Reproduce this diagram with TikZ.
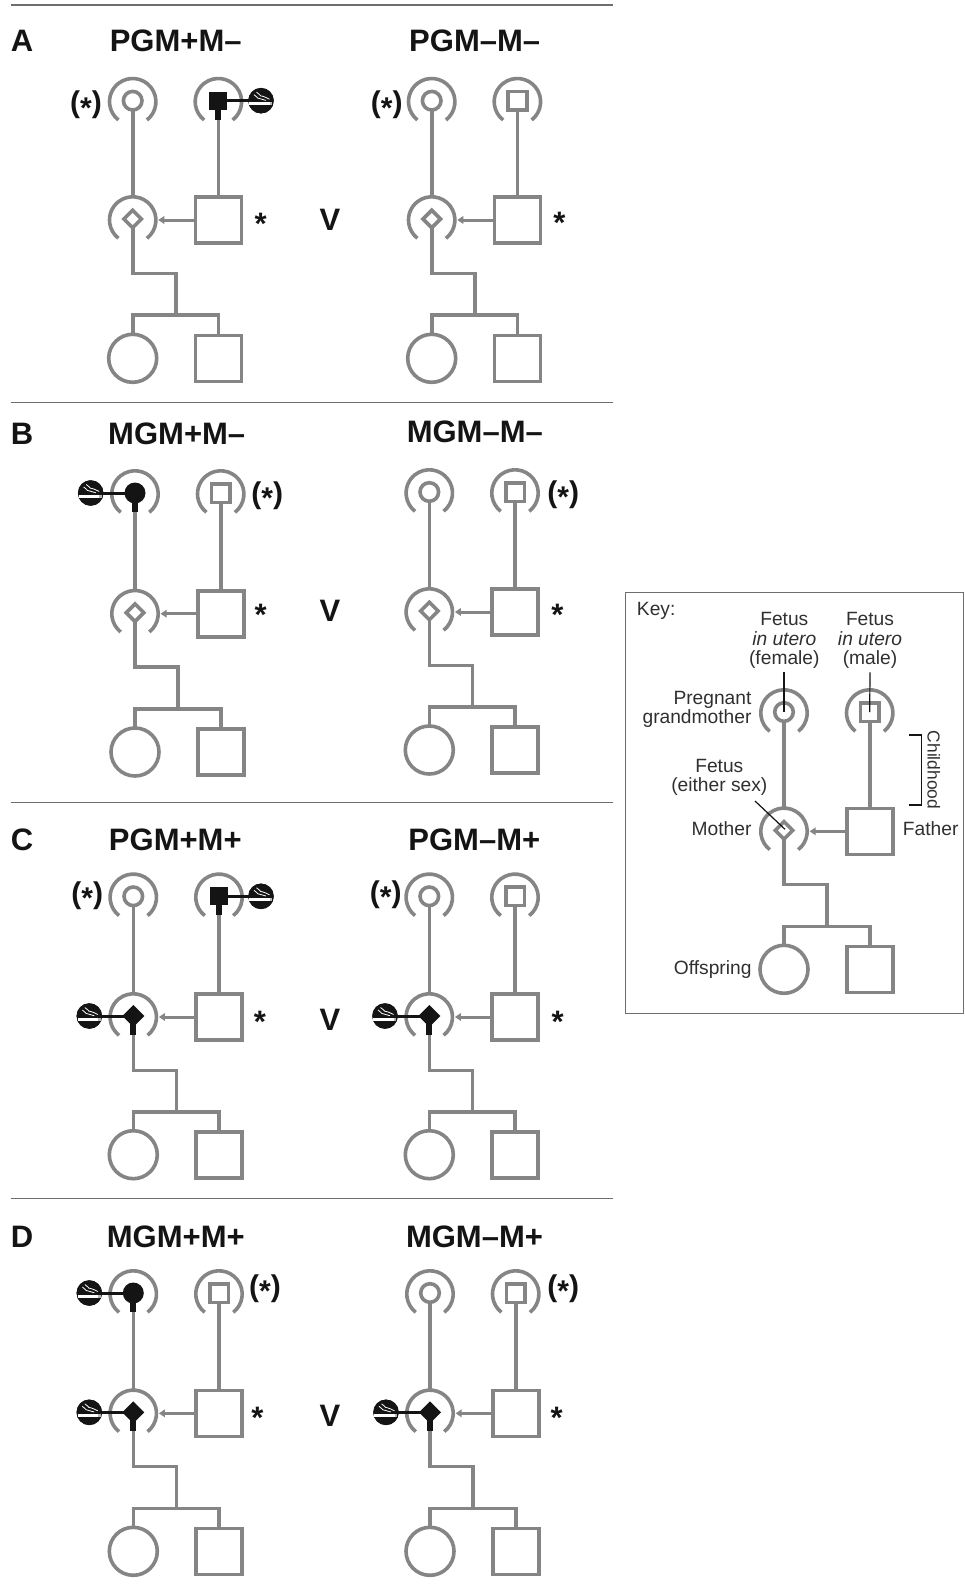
\documentclass[tikz,border=0pt]{standalone}
\usepackage{fontspec}
\setmainfont{Liberation Sans}
\usetikzlibrary{arrows.meta,shapes.geometric}
\definecolor{linegrey}{HTML}{858585}
\definecolor{rulegrey}{HTML}{6E6E6E}
\definecolor{inkblack}{HTML}{141414}
\definecolor{keyink}{HTML}{303030}
\def\px{0.75pt}
\tikzset{
  pedline/.style={draw=linegrey,line width=3.6*\px,line join=miter},
  thinarrow/.style={draw=linegrey,line width=3*\px,-{Triangle[length=6*\px,width=7.5*\px]}},
  bigsq/.style={rectangle,pedline,fill=white,inner sep=0pt,outer sep=0pt,minimum size=46*\px},
  bigci/.style={circle,pedline,fill=white,inner sep=0pt,outer sep=0pt,minimum size=48*\px},
  gmopen/.style={circle,pedline,inner sep=0pt,outer sep=0pt,minimum size=18.6*\px},
  gmblack/.style={circle,fill=inkblack,inner sep=0pt,outer sep=0pt,minimum size=21*\px},
  gfopen/.style={rectangle,pedline,inner sep=0pt,outer sep=0pt,minimum size=18.6*\px},
  gfblack/.style={rectangle,fill=inkblack,inner sep=0pt,outer sep=0pt,minimum size=18*\px},
  diaopen/.style={diamond,pedline,inner sep=0pt,outer sep=0pt,aspect=1,minimum size=17.5*\px},
  diablack/.style={diamond,fill=inkblack,inner sep=0pt,outer sep=0pt,aspect=1,minimum size=22*\px},
  smokebg/.style={circle,fill=inkblack,inner sep=0pt,outer sep=0pt,minimum size=25.5*\px},
  smokeline/.style={draw=inkblack,line width=3*\px},
  smokestub/.style={draw=inkblack,line width=6*\px},
  sepline/.style={draw=rulegrey,line width=1.4*\px},
  panelhead/.style={anchor=base,inner sep=0pt,text=inkblack,font=\fontsize{23.25pt}{26pt}\selectfont\bfseries},
  bigmark/.style={anchor=base,inner sep=0pt,text=inkblack,font=\fontsize{22.5pt}{26pt}\selectfont\bfseries},
  keytext/.style={inner sep=0pt,text=keyink,font=\fontsize{14.4pt}{17pt}\selectfont},
  keyptr/.style={draw=inkblack,line width=1.2*\px},
}
\newcommand{\parstar}{(\raisebox{-0.17em}{*})}
% womb arc round a coordinate (dimensions given in pt so that the y flip does not mirror them)
\newcommand{\wombarc}[1]{\draw[pedline] (#1) ++(-52:17.4pt) arc[start angle=-52,end angle=232,radius=17.4pt];}
% prefix, mother x, grandparent y, mother y, child y, gm style, gf style, mother style
\newcommand{\pedigree}[8]{
  \coordinate (#1gc) at (#2,#3);
  \coordinate (#1fc) at (#2+85.7,#3);
  \coordinate (#1mc) at (#2,#4);
  \coordinate (#1mtop) at (#2,#4-23.2);
  \coordinate (#1marc) at (#2+25.6,#4);
  \coordinate (#1j1) at (#2+43,#4+53.3);
  \coordinate (#1j2) at (#2+43,#4+95);
  \node[#6] (#1gm) at (#2,#3-1) {};
  \node[#7] (#1gf) at (#2+85.7,#3-1) {};
  \node[#8] (#1mo) at (#2,#4-1) {};
  \node[bigsq] (#1fa) at (#2+85.7,#4) {};
  \node[bigci] (#1da) at (#2,#5) {};
  \node[bigsq] (#1so) at (#2+85.7,#5) {};
  \wombarc{#1gc}
  \wombarc{#1fc}
  \wombarc{#1mc}
  \draw[pedline] (#1gm.south) -- (#1mtop);
  \draw[pedline] (#1gf.south) -- (#1fa.north);
  \draw[thinarrow] (#1fa.west) -- (#1marc);
  \draw[pedline] (#1mo.south) |- (#1j1) -- (#1j2);
  \draw[pedline] (#1da.north) |- (#1j2);
  \draw[pedline] (#1so.north) |- (#1j2);
}
% inner node, icon name, icon x, icon y
\newcommand{\smoker}[4]{
  \node[smokebg] (#2) at (#3,#4) {};
  \draw[smokestub] (#1.center) -- ++(0,19);
  \draw[smokeline] (#1.center) -- (#2.center);
  \node[smokebg] at (#2.center) {};
  \begin{scope}[shift={(#2.center)}]
    \fill[white] (-11.6,1.6) rectangle (8.6,4.8);
    \fill[linegrey!60!white] (8.6,1.6) rectangle (11.2,4.8);
    \draw[white,line width=0.8*\px] (-4.5,-8.5) .. controls (-1,-8) and (-2,-4) .. (1.5,-4.5) .. controls (4,-5) and (5,-2) .. (8.5,-1.5);
    \draw[white,line width=0.8*\px] (-7,-6) .. controls (-4,-5.5) and (-5,-2) .. (-1,-2) .. controls (1,-2) and (2,-.5) .. (5,-.3);
  \end{scope}
}
\begin{document}
\begin{tikzpicture}[x=0.75pt,y=-0.75pt]
\useasboundingbox (0,0) rectangle (964,1591);
\fill[white] (0,0) rectangle (964,1591);
% separators
\coordinate (r1a) at (10.7,5);      \coordinate (r1b) at (612.7,5);
\coordinate (r2a) at (10.7,402.7);  \coordinate (r2b) at (612.7,402.7);
\coordinate (r3a) at (10.7,802.7);  \coordinate (r3b) at (612.7,802.7);
\coordinate (r4a) at (10.7,1198.3); \coordinate (r4b) at (612.7,1198.3);
\draw[sepline] (r1a) -- (r1b);
\draw[sepline] (r2a) -- (r2b);
\draw[sepline] (r3a) -- (r3b);
\draw[sepline] (r4a) -- (r4b);
% panel letters
\node[panelhead,anchor=base west] (la) at (10.5,51.7) {A};
\node[panelhead,anchor=base west] (lb) at (10.5,444) {B};
\node[panelhead,anchor=base west] (lc) at (10.5,850.5) {C};
\node[panelhead,anchor=base west] (ld) at (10.5,1247.3) {D};
% headings
\node[panelhead] (h1) at (175.7,51.7) {PGM+M–};
\node[panelhead] (h2) at (474.7,51.7) {PGM–M–};
\node[panelhead] (h3) at (176.7,444) {MGM+M–};
\node[panelhead] (h4) at (474.8,442.7) {MGM–M–};
\node[panelhead] (h5) at (175.3,850.7) {PGM+M+};
\node[panelhead] (h6) at (474.3,850.7) {PGM–M+};
\node[panelhead] (h7) at (175.8,1247.7) {MGM+M+};
\node[panelhead] (h8) at (474.5,1247.7) {MGM–M+};
% V
\node[panelhead] (v1) at (330,230) {V};
\node[panelhead] (v2) at (330,621.7) {V};
\node[panelhead] (v3) at (330,1030) {V};
\node[panelhead] (v4) at (330,1426) {V};
% pedigrees
\pedigree{a}{132.7}{101.7}{220}{358.3}{gmopen}{gfblack}{diaopen}
\smoker{agf}{asm}{261}{100.7}
\pedigree{b}{431.7}{101.7}{220}{358.3}{gmopen}{gfopen}{diaopen}
\pedigree{c}{135}{494}{613.7}{752}{gmblack}{gfopen}{diaopen}
\smoker{cgm}{csm}{90.7}{493}
\pedigree{d}{429.3}{493}{612}{750}{gmopen}{gfopen}{diaopen}
\pedigree{e}{133.3}{897.3}{1017}{1154.7}{gmopen}{gfblack}{diablack}
\smoker{egf}{esmf}{261}{896.3}
\smoker{emo}{esmm}{89.3}{1016}
\pedigree{f}{429.3}{897.3}{1017}{1154.7}{gmopen}{gfopen}{diablack}
\smoker{fmo}{fsm}{385}{1016}
\pedigree{g}{133.3}{1294}{1413.3}{1551.3}{gmblack}{gfopen}{diablack}
\smoker{ggm}{gsmg}{89.3}{1293}
\smoker{gmo}{gsmm}{89.3}{1412.3}
\pedigree{i}{430}{1294}{1413.3}{1551.3}{gmopen}{gfopen}{diablack}
\smoker{imo}{ism}{386}{1412.3}
% asterisks
\node[panelhead] (s1) at (260.7,234.3) {*};
\node[panelhead] (s2) at (559.3,233.3) {*};
\node[panelhead] (s3) at (260.7,625.7) {*};
\node[panelhead] (s4) at (557.3,625) {*};
\node[panelhead] (s5) at (260,1032.3) {*};
\node[panelhead] (s6) at (557.7,1032.3) {*};
\node[panelhead] (s7) at (257.3,1428.7) {*};
\node[panelhead] (s8) at (556.7,1428.7) {*};
% bracketed asterisks
\node[bigmark] (p1) at (86,113) {\parstar};
\node[bigmark] (p2) at (386.7,113) {\parstar};
\node[bigmark] (p3) at (267.3,503) {\parstar};
\node[bigmark] (p4) at (563.3,502.3) {\parstar};
\node[bigmark] (p5) at (87.3,903) {\parstar};
\node[bigmark] (p6) at (385.7,902.3) {\parstar};
\node[bigmark] (p7) at (265,1296.7) {\parstar};
\node[bigmark] (p8) at (563.3,1296.7) {\parstar};
% key
\coordinate (kbl) at (625.3,592.3);
\coordinate (kbr) at (963.3,1013.3);
\draw[sepline] (kbl) rectangle (kbr);
\node[keytext,anchor=base west] (kkey) at (636.7,615.7) {Key:};
\pedigree{k}{784}{713}{831.3}{969.3}{gmopen}{gfopen}{diaopen}
\node[keytext,anchor=base] (kf1) at (784.3,625) {Fetus};
\node[keytext,anchor=base] (kf2) at (784.3,645) {\itshape in utero};
\node[keytext,anchor=base] (kf3) at (784.3,664) {(female)};
\node[keytext,anchor=base] (km1) at (870,625) {Fetus};
\node[keytext,anchor=base] (km2) at (870,645) {\itshape in utero};
\node[keytext,anchor=base] (km3) at (870,664) {(male)};
\node[keytext,anchor=base east] (kp1) at (751.7,704) {Pregnant};
\node[keytext,anchor=base east] (kp2) at (751.7,723.3) {grandmother};
\node[keytext,anchor=base] (kx1) at (719.3,772.3) {Fetus};
\node[keytext,anchor=base] (kx2) at (719.3,791.7) {(either sex)};
\node[keytext,anchor=base east] (kmo) at (751.7,835) {Mother};
\node[keytext,anchor=base west] (kfa) at (902.7,835) {Father};
\node[keytext,anchor=base east] (kof) at (751.7,974.3) {Offspring};
\node[keytext,anchor=base,rotate=-90,font=\fontsize{13pt}{15pt}\selectfont] (kch) at (927.5,770) {Childhood};
\coordinate (kq1) at (784,672.3);
\coordinate (kq2) at (870,672.3);
\coordinate (kq3) at (755,801);
\coordinate (kq4) at (785,829.3);
\coordinate (kb1) at (909.3,735);
\coordinate (kb2) at (921.7,735);
\coordinate (kb3) at (921.7,805);
\coordinate (kb4) at (909.3,805);
\draw[keyptr] (kq1) -- (kgm.center);
\draw[keyptr] (kq2) -- (kgf.center);
\draw[keyptr] (kq3) -- (kq4);
\draw[keyptr] (kb1) -- (kb2) -- (kb3) -- (kb4);
\end{tikzpicture}
\end{document}
